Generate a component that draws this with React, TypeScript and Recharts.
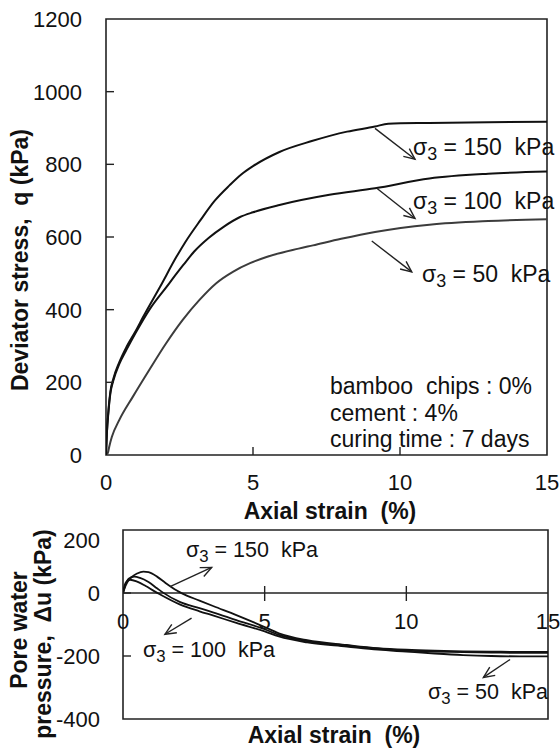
import React from 'react';
import {
  LineChart,
  ComposedChart,
  Line,
  XAxis,
  YAxis,
  ReferenceArea,
  ReferenceLine,
  ReferenceDot,
} from 'recharts';

const FONT = '"Liberation Sans", Arial, Helvetica, sans-serif';
const INK = '#111';

// ---------- Top chart: deviator stress q (kPa) vs axial strain (%) ----------
const strainQ150 = [0, 0.03, 0.08, 0.15, 0.25, 0.45, 0.7, 1.0, 1.27, 1.84, 2.4, 2.69, 3.2, 3.7, 4.2, 4.6, 5.0, 5.9, 7.0, 8.2, 9.15, 9.6, 11, 13, 15];
const q150 = [0, 60, 120, 175, 210, 255, 298, 340, 381, 463, 546, 585, 645, 700, 742, 772, 795, 834, 864, 890, 904, 912, 914, 916, 917];

const strainQ100 = [0, 0.03, 0.08, 0.15, 0.25, 0.45, 0.7, 1.0, 1.5, 2.06, 2.63, 3.0, 3.5, 4.0, 4.56, 5.0, 5.9, 7.6, 9.15, 11, 13, 15];
const q100 = [0, 60, 115, 170, 205, 250, 290, 335, 403, 463, 523, 560, 598, 628, 655, 668, 688, 716, 734, 761, 774, 780];

const strainQ50 = [0, 0.06, 0.11, 0.2, 0.45, 0.91, 1.47, 2.04, 2.61, 3.18, 3.75, 4.33, 4.9, 5.46, 6.55, 7.04, 8, 9.15, 11, 13, 15];
const q50 = [0, 5, 23, 50, 96, 160, 234, 307, 372, 427, 473, 505, 528, 545, 568, 577, 595, 614, 634, 644, 649];

const topXTicks = [0, 5, 10, 15];
const topYTicks = [0, 200, 400, 600, 800, 1000, 1200];

// ---------- Bottom chart: pore water pressure du (kPa) vs axial strain (%) ----------
const strainU150 = [0, 0.1, 0.3, 0.5, 0.72, 0.9, 1.2, 1.5, 1.9, 2.1, 2.7, 3.2, 4, 5, 5.5, 6.5, 7.9, 9, 10, 11, 12, 13, 14, 15];
const u150 = [0, 25, 50, 62, 68, 66, 52, 32, 8, -2, -24, -42, -70, -108, -128, -150, -165, -175, -180, -183, -185, -186, -187, -187];

const strainU100 = [0, 0.08, 0.2, 0.4, 0.6, 0.9, 1.2, 1.4, 2, 2.7, 3.2, 4, 5, 5.5, 6.5, 7.9, 9, 10, 11, 12, 13, 14, 15];
const u100 = [0, 25, 45, 52, 48, 35, 15, 2, -28, -48, -62, -86, -115, -133, -153, -168, -177, -183, -186, -188, -189, -190, -190];

const strainU50 = [0, 0.06, 0.15, 0.25, 0.5, 0.8, 1.1, 1.3, 2, 2.7, 3.2, 4, 5, 5.5, 6.5, 7.9, 9, 10, 11, 12, 13, 14, 15];
const u50 = [0, 25, 38, 42, 36, 22, 6, -4, -36, -58, -72, -95, -122, -138, -157, -170, -180, -186, -192, -197, -200, -201, -201];

const botXTicks = [0, 5, 10, 15];
const botYTicks = [-400, -200, 0, 200];

const conditionLines = ['bamboo  chips : 0%', 'cement : 4%', 'curing time : 7 days'];

const zip = (xs: number[], ys: number[]) => xs.map((x, i) => ({ x, y: ys[i] }));

const dataQ150 = zip(strainQ150, q150);
const dataQ100 = zip(strainQ100, q100);
const dataQ50 = zip(strainQ50, q50);
const dataU150 = zip(strainU150, u150);
const dataU100 = zip(strainU100, u100);
const dataU50 = zip(strainU50, u50);

// ---------- helpers ----------
const ArrowShape = (p: any) => {
  const x1 = Number(p.x1), y1 = Number(p.y1), x2 = Number(p.x2), y2 = Number(p.y2);
  const ang = Math.atan2(y2 - y1, x2 - x1);
  const L = 12;
  const a = 0.42;
  const hx1 = x2 - L * Math.cos(ang - a);
  const hy1 = y2 - L * Math.sin(ang - a);
  const hx2 = x2 - L * Math.cos(ang + a);
  const hy2 = y2 - L * Math.sin(ang + a);
  return (
    <g>
      <line x1={x1} y1={y1} x2={x2} y2={y2} stroke="#222" strokeWidth={1.4} />
      <polyline points={`${hx1},${hy1} ${x2},${y2} ${hx2},${hy2}`} fill="none" stroke="#222" strokeWidth={1.4} />
    </g>
  );
};

const TopXTick = (p: any) => {
  const v = p.payload.value;
  return (
    <g>
      {v > 0 && v < 15 && <line x1={p.x} y1={p.y} x2={p.x} y2={p.y - 8} stroke="#222" strokeWidth={1.4} />}
      <text x={p.x} y={p.y + 35} textAnchor="middle" fontSize={22} fontFamily={FONT} fill={INK}>
        {v}
      </text>
    </g>
  );
};

const TopYTick = (p: any) => {
  const v = p.payload.value;
  return (
    <g>
      {v > 0 && v < 1200 && <line x1={p.x} y1={p.y} x2={p.x + 8} y2={p.y} stroke="#222" strokeWidth={1.4} />}
      <text x={p.x - 24} y={p.y + 8} textAnchor="end" fontSize={22} fontFamily={FONT} fill={INK}>
        {v}
      </text>
    </g>
  );
};

const BotYTick = (p: any) => {
  const v = p.payload.value;
  const shift = v === 200 ? 10 : 0;
  return (
    <g>
      {v > -400 && v < 200 && <line x1={p.x} y1={p.y} x2={p.x + 8} y2={p.y} stroke="#222" strokeWidth={1.4} />}
      <text x={p.x - 23} y={p.y + 8 + shift} textAnchor="end" fontSize={22} fontFamily={FONT} fill={INK}>
        {v}
      </text>
    </g>
  );
};

const zeroAxisTick = (v: number) => (p: any) => (
  <g>
    {v > 0 && v < 15 && <line x1={p.cx} y1={p.cy - 7} x2={p.cx} y2={p.cy + 8} stroke="#222" strokeWidth={1.4} />}
    <text x={p.cx} y={p.cy + 36} textAnchor="middle" fontSize={22} fontFamily={FONT} fill={INK}>
      {v}
    </text>
  </g>
);

const SigmaLabel = ({ x, y, val, size = 23 }: { x: number; y: number; val: number; size?: number }) => (
  <text x={x} y={y} fontSize={size} fontFamily={FONT} fill={INK} style={{ whiteSpace: 'pre' }}>
    σ
    <tspan fontSize={size * 0.78} dy={5}>3</tspan>
    <tspan dy={-5}>{` = ${val}  kPa`}</tspan>
  </text>
);

const lineProps = {
  type: 'monotone' as const,
  dataKey: 'y',
  dot: false,
  activeDot: false,
  isAnimationActive: false,
};

export default function App() {
  return (
    <div style={{ position: 'absolute', left: 0, top: 0, width: 560, height: 751, background: '#fff', overflow: 'hidden' }}>
      {/* Top chart */}
      <div style={{ position: 'absolute', left: 0, top: 0 }}>
        <LineChart width={560} height={530} margin={{ top: 19, right: 13, left: 0, bottom: 5 }}>
          <XAxis
            type="number"
            dataKey="x"
            domain={[0, 15]}
            ticks={topXTicks}
            allowDataOverflow
            height={70}
            axisLine={false}
            tickLine={false}
            tickSize={0}
            tickMargin={0}
            tick={(p: any) => <TopXTick {...p} />}
          />
          <YAxis
            type="number"
            dataKey="y"
            domain={[0, 1200]}
            ticks={topYTicks}
            allowDataOverflow
            width={106}
            axisLine={false}
            tickLine={false}
            tickSize={0}
            tickMargin={0}
            tick={(p: any) => <TopYTick {...p} />}
          />
          <ReferenceArea x1={0} x2={15} y1={0} y2={1200} fill="none" fillOpacity={0} stroke="#222" strokeWidth={1.6} ifOverflow="visible" />
          <Line {...lineProps} data={dataQ50} stroke="#3c3c3c" strokeWidth={2} />
          <Line {...lineProps} data={dataQ100} stroke="#111" strokeWidth={2} />
          <Line {...lineProps} data={dataQ150} stroke="#111" strokeWidth={2} />
          <ReferenceLine segment={[{ x: 9.15, y: 899 }, { x: 10.51, y: 814 }]} shape={ArrowShape} ifOverflow="visible" />
          <ReferenceLine segment={[{ x: 9.21, y: 734 }, { x: 10.51, y: 651 }]} shape={ArrowShape} ifOverflow="visible" />
          <ReferenceLine segment={[{ x: 9.04, y: 589 }, { x: 10.4, y: 504 }]} shape={ArrowShape} ifOverflow="visible" />
        </LineChart>
      </div>

      {/* Bottom chart */}
      <div style={{ position: 'absolute', left: 0, top: 520 }}>
        <ComposedChart width={560} height={231} margin={{ top: 10, right: 12, left: 0, bottom: 0 }}>
          <XAxis
            type="number"
            dataKey="x"
            domain={[0, 15]}
            ticks={botXTicks}
            allowDataOverflow
            height={32}
            axisLine={false}
            tickLine={false}
            tick={false}
          />
          <YAxis
            type="number"
            dataKey="y"
            domain={[-400, 200]}
            ticks={botYTicks}
            allowDataOverflow
            width={123}
            axisLine={false}
            tickLine={false}
            tickSize={0}
            tickMargin={0}
            tick={(p: any) => <BotYTick {...p} />}
          />
          <ReferenceArea x1={0} x2={15} y1={-400} y2={200} fill="none" fillOpacity={0} stroke="#222" strokeWidth={1.6} ifOverflow="visible" />
          <ReferenceLine y={0} stroke="#222" strokeWidth={1.4} />
          {botXTicks.map((v) => (
            <ReferenceDot key={v} x={v} y={0} r={0} ifOverflow="visible" shape={zeroAxisTick(v)} />
          ))}
          <Line {...lineProps} data={dataU50} stroke="#111" strokeWidth={1.8} />
          <Line {...lineProps} data={dataU100} stroke="#111" strokeWidth={1.8} />
          <Line {...lineProps} data={dataU150} stroke="#111" strokeWidth={1.8} />
          <ReferenceLine segment={[{ x: 1.66, y: 20 }, { x: 3.13, y: 81 }]} shape={ArrowShape} ifOverflow="visible" />
          <ReferenceLine segment={[{ x: 2.42, y: -80 }, { x: 1.48, y: -131 }]} shape={ArrowShape} ifOverflow="visible" />
          <ReferenceLine segment={[{ x: 13.66, y: -211 }, { x: 12.72, y: -268 }]} shape={ArrowShape} ifOverflow="visible" />
        </ComposedChart>
      </div>

      {/* Titles and annotations */}
      <svg width={560} height={751} style={{ position: 'absolute', left: 0, top: 0, pointerEvents: 'none' }}>
        <text
          x={20}
          y={260}
          dy="0.355em"
          transform="rotate(-90 20 260)"
          textAnchor="middle"
          fontSize={23}
          fontWeight="bold"
          fontFamily={FONT}
          fill={INK}
          style={{ whiteSpace: 'pre' }}
        >
          {'Deviator stress,  q (kPa)'}
        </text>
        <text x={330} y={519} textAnchor="middle" fontSize={23} fontWeight="bold" fontFamily={FONT} fill={INK} style={{ whiteSpace: 'pre' }}>
          {'Axial strain  (%)'}
        </text>
        <text x={334} y={743} textAnchor="middle" fontSize={23} fontWeight="bold" fontFamily={FONT} fill={INK} style={{ whiteSpace: 'pre' }}>
          {'Axial strain  (%)'}
        </text>
        <text
          x={19}
          y={630}
          dy="0.355em"
          transform="rotate(-90 19 630)"
          textAnchor="middle"
          fontSize={23}
          fontWeight="bold"
          fontFamily={FONT}
          fill={INK}
        >
          Pore water
        </text>
        <text
          x={43}
          y={634}
          dy="0.355em"
          transform="rotate(-90 43 634)"
          textAnchor="middle"
          fontSize={23}
          fontWeight="bold"
          fontFamily={FONT}
          fill={INK}
          style={{ whiteSpace: 'pre' }}
        >
          {'pressure,  Δu (kPa)'}
        </text>

        {conditionLines.map((t, i) => (
          <text key={t} x={330} y={394 + i * 26.5} fontSize={23} fontFamily={FONT} fill={INK} style={{ whiteSpace: 'pre' }}>
            {t}
          </text>
        ))}

        <SigmaLabel x={413} y={155} val={150} />
        <SigmaLabel x={413} y={209} val={100} />
        <SigmaLabel x={422} y={282} val={50} />

        <SigmaLabel x={186} y={557} val={150} size={21.5} />
        <SigmaLabel x={143} y={657} val={100} size={21.5} />
        <SigmaLabel x={428} y={699} val={50} size={21.5} />
      </svg>
    </div>
  );
}
